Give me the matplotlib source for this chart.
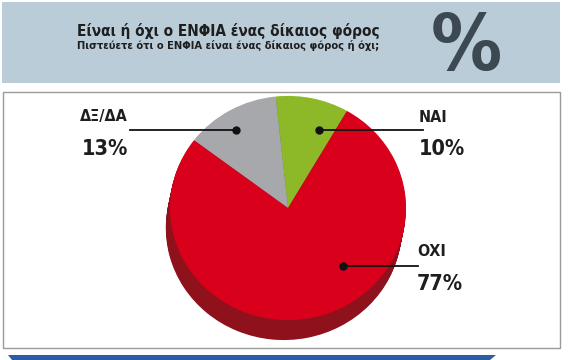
import matplotlib
matplotlib.use('Agg')
import matplotlib.pyplot as plt
from matplotlib.patches import Rectangle, Polygon

# data
labels = ['ΝΑΙ', 'ΔΞ/ΔΑ', 'ΟΧΙ']
values = [10, 13, 77]
colors = ['#8db828', '#a6a8ab', '#d9001b']
side_colors = ['#5e7a1a', '#6f7073', '#8e111b']
title = 'Είναι ή όχι ο ΕΝΦΙΑ ένας δίκαιος φόρος'
subtitle = 'Πιστεύετε ότι ο ΕΝΦΙΑ είναι ένας δίκαιος φόρος ή όχι;'

fnt = dict(family='DejaVu Sans', fontstretch='condensed', fontweight='bold')

fig = plt.figure(figsize=(5.7, 3.6), dpi=100)

# pie axes: x in pixels, y squashed a bit so the top face is a flat ellipse
ax = fig.add_axes([0, 0, 1, 1])
sq = 0.95
depth = 21
for d in range(depth, 0, -1):
    ax.pie(values, colors=side_colors, startangle=60, counterclock=True,
           radius=118, center=(288 - d * 0.2, -d),
           wedgeprops=dict(linewidth=0))
ax.pie(values, colors=colors, startangle=60, counterclock=True,
       radius=118, center=(288, 0), wedgeprops=dict(linewidth=0))
ax.set_aspect('auto')
ax.set_xlim(0, 570)
ax.set_ylim((208 - 360) / sq, 208 / sq)
ax.axis('off')

# overlay in pixel coordinates
ov = fig.add_axes([0, 0, 1, 1], zorder=5)
ov.set_xlim(0, 570)
ov.set_ylim(360, 0)
ov.axis('off')
ov.patch.set_alpha(0)

ov.add_patch(Rectangle((2, 2), 558, 81, facecolor='#b9ccd8', edgecolor='none'))
ov.add_patch(Rectangle((3, 92), 557, 256, facecolor='none', edgecolor='#9a9a9a', lw=1))
ov.add_patch(Polygon([(8, 355), (496, 355), (490, 360), (12, 360)], closed=True,
                     facecolor='#2b5fa3', edgecolor='none'))

ov.text(228, 31, title, ha='center', va='center', fontsize=11, color='#1e1e1e', **fnt)
ov.text(228, 45.5, subtitle, ha='center', va='center', fontsize=8, color='#1e1e1e', **fnt)
ov.text(466, 70, '%', ha='center', va='baseline', fontsize=57, color='#3c4952', **fnt)

# labels with leader lines
lab_pos = {'ΝΑΙ': (419, 117, 'left'), 'ΔΞ/ΔΑ': (128, 117, 'right'), 'ΟΧΙ': (417, 252, 'left')}
lines = {'ΝΑΙ': ((423, 130), (319, 130)), 'ΔΞ/ΔΑ': ((130, 130), (236, 130)),
         'ΟΧΙ': ((418, 266), (343, 266))}
for lab, v in zip(labels, values):
    x, y, ha = lab_pos[lab]
    ov.text(x, y, lab, ha=ha, va='center', fontsize=11.5, color='#1e1e1e', **fnt)
    ov.text(x, y + 32, f'{v}%', ha=ha, va='center', fontsize=15.5, color='#1e1e1e', **fnt)
    (x0, y0), (x1, y1) = lines[lab]
    ov.plot([x0, x1], [y0, y1], color='#111111', lw=1.3)
    ov.plot([x1], [y1], 'o', color='#111111', ms=5)

fig.savefig('out.png', dpi=100)
